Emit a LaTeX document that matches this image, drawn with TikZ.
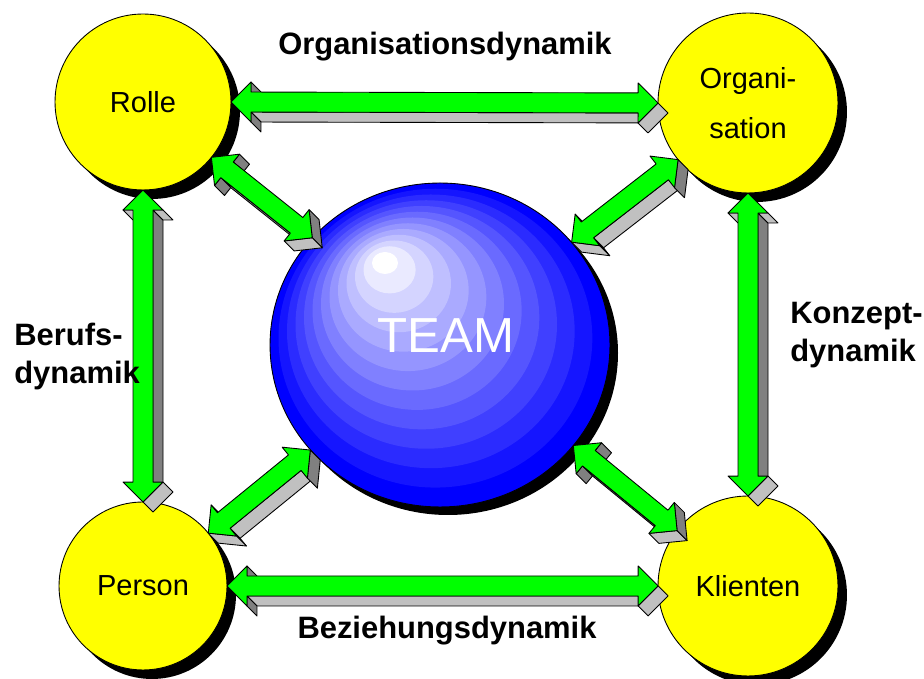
\documentclass[tikz,border=0pt]{standalone}
\usepackage{fontspec}
\setmainfont{Liberation Sans}
\usetikzlibrary{calc, shapes.geometric, shadows}

\definecolor{rolefill}{HTML}{FFFF00}
\definecolor{arrowgreen}{HTML}{00FF00}
\definecolor{sidedark}{HTML}{808080}
\definecolor{sidelight}{HTML}{C0C0C0}

\tikzstyle{role} = [circle, draw=black, line width=0.5pt, fill=rolefill, inner sep=0pt, outer sep=0pt, align=center, font=\fontsize{16.5}{28.5}\selectfont, general shadow={fill=black, shadow xshift=0.18cm, shadow yshift=-0.18cm}]
\tikzstyle{teamball} = [ellipse, draw=black, line width=0.5pt, inner sep=0pt, outer sep=0pt, minimum width=6.8cm, minimum height=6.48cm]
\tikzstyle{teamtext} = [text=white, font=\fontsize{28}{30}\selectfont, xshift=0.12cm, yshift=0.18cm]
\tikzstyle{dynlabel} = [font=\fontsize{17.6}{21.5}\selectfont\bfseries, inner sep=0pt, align=left]
\tikzstyle{front} = [fill=arrowgreen, draw=black, line width=0.5pt, line join=round]
\tikzstyle{face} = [draw=black, line width=0.5pt, line join=round]

% 3D double block arrow from tip #1 to tip #2, sides fall down to the right
\newcommand{\dynarrow}[2]{%
  \path let \p1=($(#2)-(#1)$) in \pgfextra{%
    \pgfmathsetmacro\arrang{atan2(\y1,\x1)}%
    \pgfmathsetmacro\arrlen{veclen(\x1,\y1)/0.569055}%
    \global\let\arrang\arrang\global\let\arrlen\arrlen};
  \pgfmathsetmacro\offx{10*cos(\arrang)-10*sin(\arrang)}%
  \pgfmathsetmacro\offy{-10*sin(\arrang)-10*cos(\arrang)}%
  \begin{scope}[shift={(#1)}, rotate=\arrang]
    \foreach \i/\px/\py in {0/0/0, 1/20/20, 2/20/10, 3/\arrlen-20/10,
        4/\arrlen-20/20, 5/\arrlen/0, 6/\arrlen-20/-20, 7/\arrlen-20/-10,
        8/20/-10, 9/20/-20}{
      \coordinate (p\i) at (\px,\py);
      \coordinate (q\i) at (\px+\offx,\py+\offy);
    }
    % side faces: shaft first, the heads go over its ends
    \foreach \a/\b/\nrm in {2/3/90, 7/8/-90, 0/1/135, 1/2/0, 3/4/180,
        4/5/45, 5/6/-45, 6/7/180, 8/9/0, 9/0/-135}{
      \pgfmathtruncatemacro\seen{cos(\nrm+\arrang+45)>0.05}
      \ifnum\seen=1
        \pgfmathtruncatemacro\dark{cos(\nrm+\arrang)+sin(\nrm+\arrang)>0.1}
        \ifnum\dark=1 \def\facecol{sidedark}\else\def\facecol{sidelight}\fi
        \draw[face, fill=\facecol] (p\a) -- (p\b) -- (q\b) -- (q\a) -- cycle;
      \fi
    }
    \draw[front] (p0) -- (p1) -- (p2) -- (p3) -- (p4) -- (p5) -- (p6)
      -- (p7) -- (p8) -- (p9) -- cycle;
  \end{scope}}

\begin{document}
\begin{tikzpicture}[x=0.02cm, y=0.02cm]
\useasboundingbox (0,0) rectangle (924,679);

% the four corners
\node[role, minimum size=3.52cm] (rolle) at (143,577) {Rolle};
\node[role, minimum size=3.6cm] (orga) at (748,576) {Organi-\\sation};
\node[role, minimum size=3.36cm] (person) at (143,93) {Person};
\node[role, minimum size=3.6cm] (klient) at (748,93) {Klienten};

% the ball in the middle, shaded in rings towards the highlight
\fill[black] (448,326) ellipse [x radius=170, y radius=162];
\foreach \k in {0,...,12}{
  \pgfmathsetmacro\t{\k/12}
  \pgfmathsetmacro\shade{100*(1-\t)}
  \fill[blue!\shade!white] (440-55*\t,334+82*\t)
    ellipse [x radius=170-157*\t, y radius=162-151*\t];
}
\node[teamball, label={[teamtext]center:TEAM}] (team) at (440,334) {};

% arrows
\dynarrow{rolle.east}{orga.west}
\dynarrow{person.east}{klient.west}
\dynarrow{rolle.south}{person.north}
\dynarrow{orga.south}{klient.north}
\dynarrow{rolle.-39}{team.140}
\dynarrow{orga.219}{team.38}
\dynarrow{person.39}{team.219}
\dynarrow{klient.142}{team.-37}

% labels
\node[dynlabel, anchor=base] (orgdyn) at (445,624) {Organisationsdynamik};
\node[dynlabel, anchor=base] (bezdyn) at (447,40) {Beziehungsdynamik};
\node[dynlabel, anchor=north west] (berufdyn) at (14,356) {Berufs-\\dynamik};
\node[dynlabel, anchor=north west] (konzdyn) at (790,377) {Konzept-\\dynamik};
\end{tikzpicture}
\end{document}
